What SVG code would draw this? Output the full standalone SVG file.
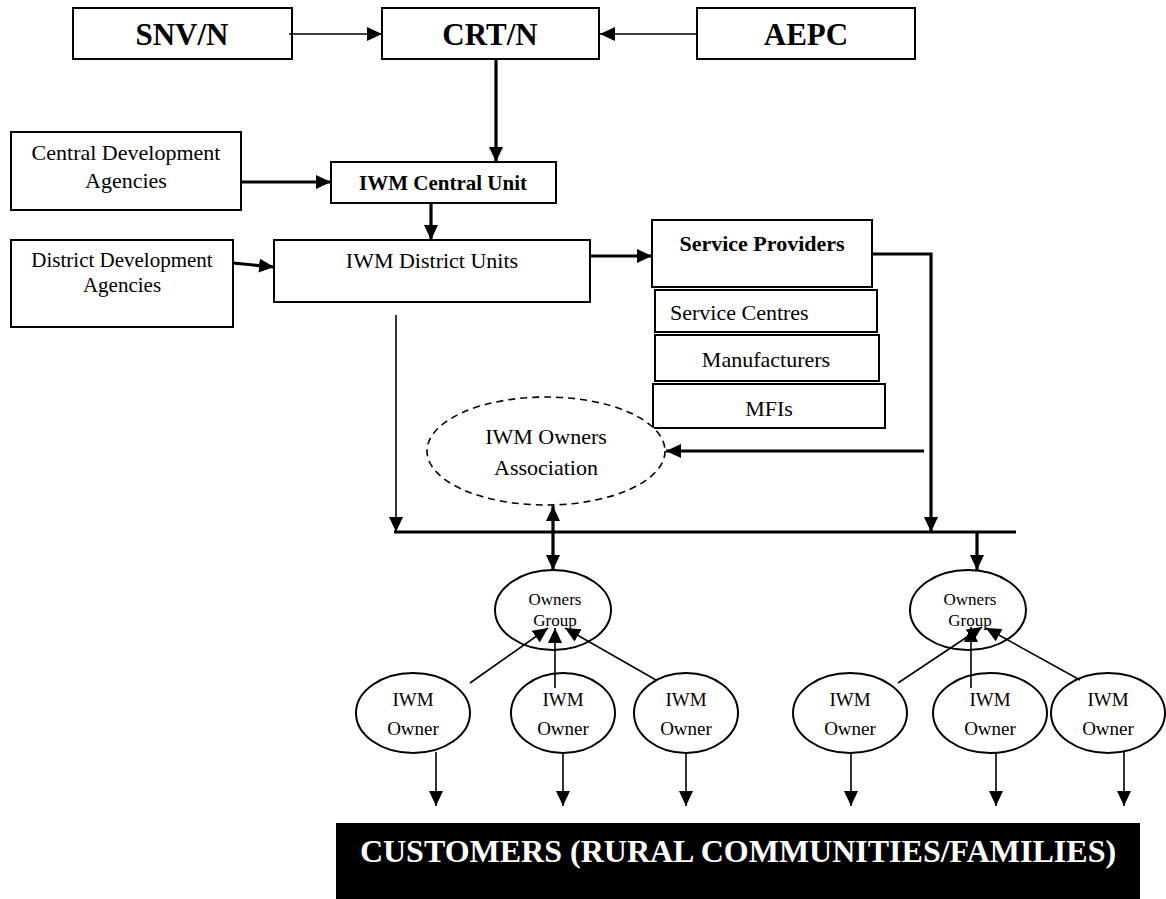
<svg xmlns="http://www.w3.org/2000/svg" width="1166" height="899" viewBox="0 0 1166 899">
<style>
.box{fill:#fff;stroke:#000;stroke-width:2}
.ell{fill:#fff;stroke:#000;stroke-width:2}
.dash{fill:#fff;stroke:#000;stroke-width:1.6;stroke-dasharray:7,5}
text{font-family:"Liberation Serif",Tinos,"Times New Roman","DejaVu Serif","Noto Serif",serif;fill:#000}
.b{font-weight:bold}
.thin{stroke:#000;stroke-width:1.6;fill:none}
.thick{stroke:#000;stroke-width:3.2;fill:none}
.arr{marker-end:url(#ah)}
</style>
<defs>
<marker id="ah" markerUnits="userSpaceOnUse" markerWidth="16" markerHeight="14" refX="15" refY="7" orient="auto">
<path d="M0,0 L15,7 L0,14 z" fill="#000"/>
</marker>
<marker id="ahs" markerUnits="userSpaceOnUse" markerWidth="16" markerHeight="14" refX="15" refY="7" orient="auto-start-reverse">
<path d="M0,0 L15,7 L0,14 z" fill="#000"/>
</marker>
</defs>
<rect x="0" y="0" width="1166" height="899" fill="#fff"/>

<g id="snvn"><rect class="box" x="73" y="8" width="219" height="51"/><text class="b" x="182" y="45" font-size="31" text-anchor="middle" font-family="Liberation Serif, Times New Roman, serif">SNV/N</text></g>
<g id="crtn"><rect class="box" x="382" y="8" width="217" height="51"/><text class="b" x="490" y="45" font-size="31" text-anchor="middle" font-family="Liberation Serif, Times New Roman, serif">CRT/N</text></g>
<g id="aepc"><rect class="box" x="697" y="8" width="218" height="51"/><text class="b" x="806" y="45" font-size="31" text-anchor="middle" font-family="Liberation Serif, Times New Roman, serif">AEPC</text></g>

<g id="cda"><rect class="box" x="11" y="132" width="230" height="78"/>
<text x="126" y="160" font-size="22" text-anchor="middle" font-family="Liberation Serif, Times New Roman, serif">Central Development</text>
<text x="126" y="188" font-size="22" text-anchor="middle" font-family="Liberation Serif, Times New Roman, serif">Agencies</text></g>

<g id="central"><rect class="box" x="331" y="162" width="225" height="41"/><text class="b" x="443" y="190" font-size="21" text-anchor="middle" font-family="Liberation Serif, Times New Roman, serif">IWM Central Unit</text></g>

<g id="dda"><rect class="box" x="11" y="240" width="222" height="87"/>
<text x="122" y="267" font-size="21" text-anchor="middle" font-family="Liberation Serif, Times New Roman, serif">District Development</text>
<text x="122" y="292" font-size="21" text-anchor="middle" font-family="Liberation Serif, Times New Roman, serif">Agencies</text></g>

<g id="district"><rect class="box" x="274" y="240" width="316" height="62"/><text x="432" y="268" font-size="22" text-anchor="middle" font-family="Liberation Serif, Times New Roman, serif">IWM District Units</text></g>

<g id="sp"><rect class="box" x="652" y="220" width="220" height="67"/><text class="b" x="762" y="251" font-size="22" text-anchor="middle" font-family="Liberation Serif, Times New Roman, serif">Service Providers</text></g>
<g id="sc"><rect class="box" x="655" y="290" width="222" height="42"/><text x="670" y="320" font-size="22" font-family="Liberation Serif, Times New Roman, serif">Service Centres</text></g>
<g id="mf"><rect class="box" x="655" y="335" width="224" height="46"/><text x="766" y="367" font-size="22" text-anchor="middle" font-family="Liberation Serif, Times New Roman, serif">Manufacturers</text></g>
<g id="mfi"><rect class="box" x="653" y="384" width="232" height="44"/><text x="769" y="416" font-size="22" text-anchor="middle" font-family="Liberation Serif, Times New Roman, serif">MFIs</text></g>

<g id="assoc"><ellipse class="dash" cx="546" cy="451" rx="119" ry="54"/>
<text x="546" y="444" font-size="22" text-anchor="middle" font-family="Liberation Serif, Times New Roman, serif">IWM Owners</text>
<text x="546" y="475" font-size="22" text-anchor="middle" font-family="Liberation Serif, Times New Roman, serif">Association</text></g>

<g id="og1"><ellipse class="ell" cx="553" cy="610" rx="58" ry="40"/>
<text x="555" y="605" font-size="17" text-anchor="middle" font-family="Liberation Serif, Times New Roman, serif">Owners</text>
<text x="555" y="626" font-size="17" text-anchor="middle" font-family="Liberation Serif, Times New Roman, serif">Group</text></g>
<g id="og2"><ellipse class="ell" cx="968" cy="610" rx="58" ry="40"/>
<text x="970" y="605" font-size="17" text-anchor="middle" font-family="Liberation Serif, Times New Roman, serif">Owners</text>
<text x="970" y="626" font-size="17" text-anchor="middle" font-family="Liberation Serif, Times New Roman, serif">Group</text></g>

<g id="o1"><ellipse class="ell" cx="413" cy="713" rx="57" ry="40"/><text x="413" y="706" font-size="19" text-anchor="middle" font-family="Liberation Serif, Times New Roman, serif">IWM</text><text x="413" y="735" font-size="19" text-anchor="middle" font-family="Liberation Serif, Times New Roman, serif">Owner</text></g>
<g id="o2"><ellipse class="ell" cx="563" cy="713" rx="52" ry="40"/><text x="563" y="706" font-size="19" text-anchor="middle" font-family="Liberation Serif, Times New Roman, serif">IWM</text><text x="563" y="735" font-size="19" text-anchor="middle" font-family="Liberation Serif, Times New Roman, serif">Owner</text></g>
<g id="o3"><ellipse class="ell" cx="686" cy="713" rx="52" ry="40"/><text x="686" y="706" font-size="19" text-anchor="middle" font-family="Liberation Serif, Times New Roman, serif">IWM</text><text x="686" y="735" font-size="19" text-anchor="middle" font-family="Liberation Serif, Times New Roman, serif">Owner</text></g>
<g id="o4"><ellipse class="ell" cx="850" cy="713" rx="57" ry="40"/><text x="850" y="706" font-size="19" text-anchor="middle" font-family="Liberation Serif, Times New Roman, serif">IWM</text><text x="850" y="735" font-size="19" text-anchor="middle" font-family="Liberation Serif, Times New Roman, serif">Owner</text></g>
<g id="o5"><ellipse class="ell" cx="990" cy="713" rx="57" ry="40"/><text x="990" y="706" font-size="19" text-anchor="middle" font-family="Liberation Serif, Times New Roman, serif">IWM</text><text x="990" y="735" font-size="19" text-anchor="middle" font-family="Liberation Serif, Times New Roman, serif">Owner</text></g>
<g id="o6"><ellipse class="ell" cx="1108" cy="713" rx="57" ry="40"/><text x="1108" y="706" font-size="19" text-anchor="middle" font-family="Liberation Serif, Times New Roman, serif">IWM</text><text x="1108" y="735" font-size="19" text-anchor="middle" font-family="Liberation Serif, Times New Roman, serif">Owner</text></g>

<g id="customers"><rect x="336" y="823" width="804" height="76" fill="#000"/>
<text class="b" x="738" y="862" font-size="32" text-anchor="middle" fill="#fff" style="fill:#fff" font-family="Liberation Serif, Times New Roman, serif">CUSTOMERS (RURAL COMMUNITIES/FAMILIES)</text></g>

<g id="connectors">
<line class="thin arr" x1="289" y1="34" x2="382" y2="34"/>
<line class="thin arr" x1="697" y1="34" x2="600" y2="34"/>
<line class="thick arr" x1="496" y1="59" x2="496" y2="162"/>
<line class="thick arr" x1="241" y1="182" x2="331" y2="182"/>
<line class="thick arr" x1="431" y1="203" x2="431" y2="240"/>
<line class="thick arr" x1="233" y1="263" x2="274" y2="267"/>
<line class="thick arr" x1="590" y1="256" x2="652" y2="256"/>
<polyline class="thick arr" points="872,254 931,254 931,532"/>
<line class="thin arr" x1="396" y1="315" x2="396" y2="532"/>
<line class="thick arr" x1="924" y1="451" x2="666" y2="451"/>
<line class="thick" x1="394" y1="532" x2="1016" y2="532"/>
<line class="thick arr" x1="553" y1="506" x2="553" y2="570" style="marker-start:url(#ahs)"/>
<line class="thick arr" x1="977" y1="532" x2="977" y2="570"/>
<line class="thin arr" x1="470" y1="683" x2="548" y2="628"/>
<line class="thin arr" x1="555" y1="688" x2="555" y2="628"/>
<line class="thin arr" x1="656" y1="680" x2="565" y2="628"/>
<line class="thin arr" x1="898" y1="683" x2="982" y2="627"/>
<line class="thin arr" x1="971" y1="688" x2="971" y2="627"/>
<line class="thin arr" x1="1080" y1="680" x2="986" y2="628"/>
<line class="thin arr" x1="436" y1="752" x2="436" y2="806"/>
<line class="thin arr" x1="563" y1="752" x2="563" y2="806"/>
<line class="thin arr" x1="686" y1="752" x2="686" y2="806"/>
<line class="thin arr" x1="851" y1="752" x2="851" y2="806"/>
<line class="thin arr" x1="996" y1="752" x2="996" y2="806"/>
<line class="thin arr" x1="1124" y1="752" x2="1124" y2="806"/>
</g>
</svg>
